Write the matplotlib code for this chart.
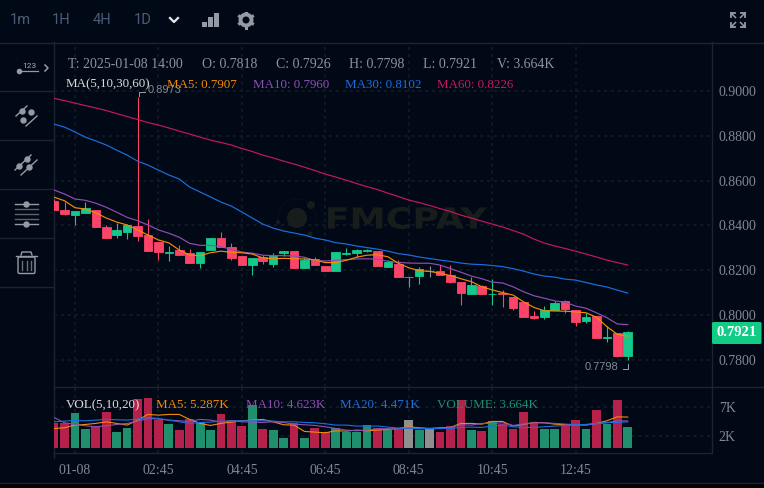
import matplotlib
matplotlib.use('Agg')
import matplotlib.pyplot as plt
from matplotlib.patches import Rectangle, FancyBboxPatch, Circle, PathPatch
from matplotlib.textpath import TextPath
from matplotlib.font_manager import FontProperties
from matplotlib.transforms import Affine2D

plt.rcParams['font.family'] = ['Liberation Serif', 'DejaVu Sans']

# candles, 15 minute bars, one row per column of the chart
opens = [.8509,.8469,.8446,.8455,.8469,.8393,.8357,.8371,.8397,.8357,.8326,.8277,.8290,.8275,.8232,.8290,.8344,.8304,.8263,.8223,.8259,.8228,.8278,.8286,.8210,.8250,.8219,.8196,
         .8272,.8277,.8286,.8286,.8214,.8228,.8171,.8174,.8196,.8196,.8179,.8148,.8094,.8130,.8094,.8097,.8081,.8058,.7996,.7991,.8022,.8063,.8022,.7973,.7996,.7897,.7920,.7818]
closes = [.8469,.8451,.8464,.8478,.8395,.8344,.8380,.8402,.8353,.8286,.8281,.8281,.8268,.8232,.8281,.8344,.8304,.8255,.8223,.8255,.8241,.8263,.8286,.8210,.8246,.8223,.8196,.8281,
          .8278,.8290,.8290,.8219,.8237,.8170,.8171,.8205,.8196,.8179,.8148,.8099,.8134,.8094,.8096,.8094,.8031,.7991,.7987,.8022,.8054,.8027,.7969,.7991,.7897,.7900,.7817,.7926]
highs = [.8518,.8506,.8464,.8504,.8469,.8402,.8411,.8406,.8973,.8429,.8326,.8308,.8313,.8295,.8281,.8344,.8371,.8322,.8263,.8255,.8268,.8277,.8286,.8286,.8255,.8259,.8219,.8281,
         .8299,.8295,.8296,.8286,.8246,.8246,.8171,.8214,.8219,.8223,.8223,.8148,.8170,.8134,.8161,.8112,.8081,.8058,.8018,.8040,.8063,.8067,.8022,.8009,.7996,.7951,.7920,.7930]
lows = [.8469,.8446,.8402,.8455,.8395,.8344,.8344,.8339,.8330,.8286,.8246,.8241,.8268,.8232,.8210,.8290,.8304,.8246,.8223,.8179,.8228,.8214,.8263,.8210,.8210,.8223,.8196,.8196,
        .8268,.8259,.8281,.8219,.8214,.8170,.8125,.8139,.8170,.8179,.8143,.8045,.8094,.8094,.8045,.8036,.8022,.7991,.7982,.7982,.8022,.8009,.7951,.7964,.7897,.7879,.7812,.7798]

ma5 = [.8526,.8510,.8479,.8473,.8456,.8433,.8415,.8402,.8380,.8357,.8335,.8322,.8290,.8268,.8265,.8278,.8285,.8280,.8278,.8272,.8255,.8251,.8253,.8251,.8250,.8246,.8234,.8234,
       .8244,.8258,.8267,.8269,.8260,.8231,.8211,.8198,.8195,.8186,.8176,.8162,.8149,.8126,.8112,.8100,.8089,.8059,.8034,.8019,.8018,.8017,.8014,.8010,.7990,.7948,.7914,.7905]
ma10 = [.8558,.8540,.8518,.8512,.8499,.8481,.8459,.8436,.8421,.8402,.8380,.8365,.8347,.8320,.8311,.8311,.8305,.8293,.8281,.8276,.8267,.8265,.8265,.8263,.8258,.8243,.8241,.8244,
        .8247,.8250,.8251,.8249,.8240,.8235,.8232,.8231,.8231,.8223,.8207,.8191,.8174,.8162,.8147,.8143,.8126,.8104,.8086,.8075,.8063,.8057,.8040,.8030,.8010,.7988,.7960,.7957]
ma30 = [.8852,.8839,.8817,.8794,.8777,.8759,.8736,.8714,.8687,.8669,.8647,.8625,.8607,.8571,.8549,.8527,.8504,.8486,.8460,.8433,.8406,.8388,.8375,.8366,.8357,.8343,.8335,.8323,
        .8317,.8308,.8301,.8294,.8285,.8274,.8268,.8259,.8252,.8245,.8239,.8232,.8227,.8225,.8221,.8216,.8207,.8196,.8183,.8174,.8169,.8160,.8156,.8145,.8134,.8125,.8111,.8098]
ma60 = [.8967,.8957,.8946,.8935,.8924,.8913,.8899,.8886,.8873,.8859,.8848,.8835,.8821,.8808,.8794,.8781,.8770,.8759,.8743,.8730,.8714,.8701,.8687,.8674,.8660,.8645,.8629,.8616,
        .8602,.8587,.8573,.8560,.8544,.8529,.8513,.8502,.8489,.8475,.8462,.8446,.8433,.8419,.8406,.8393,.8377,.8361,.8339,.8321,.8308,.8297,.8285,.8272,.8259,.8245,.8234,.8223]

# volume in thousands
volume = [4.3,4.2,6.0,3.3,3.7,6.2,2.7,3.4,8.4,8.6,4.8,4.1,3.0,4.9,4.4,3.0,5.8,4.8,3.7,7.4,3.2,3.0,1.7,4.2,1.7,3.4,2.7,3.4,
          2.8,2.8,3.9,3.4,3.0,3.4,4.8,3.0,3.4,2.7,3.7,8.2,3.0,2.9,4.6,4.1,3.2,6.1,4.3,3.2,3.2,3.9,4.8,3.2,6.5,4.1,8.2,3.66]
vol_ma5 = [3.33,3.45,3.91,4.02,4.20,4.48,4.20,3.91,4.77,5.75,5.63,5.75,5.75,4.89,4.20,3.85,4.20,4.43,4.66,4.77,4.89,4.48,3.97,3.91,2.82,2.70,2.59,2.93,
           2.87,3.05,2.93,3.05,3.16,3.33,3.62,3.45,3.33,3.45,3.51,4.20,4.20,4.08,4.54,4.54,3.74,4.02,4.37,4.31,4.08,3.97,3.97,3.97,4.20,4.66,5.34,5.29]
vol_ma10 = [5.23,4.31,4.02,3.79,3.62,3.79,4.02,4.20,4.60,5.06,4.94,4.77,4.66,4.54,4.89,4.77,4.43,4.66,4.48,4.43,4.37,4.48,4.37,4.08,3.97,3.85,3.62,3.33,
            3.05,2.93,3.05,3.28,3.28,3.28,3.39,3.39,3.28,3.33,3.51,3.97,3.91,4.20,4.20,4.31,3.85,4.08,4.31,4.31,4.20,4.08,3.97,3.91,4.14,4.31,4.66,4.62]
vol_ma20 = [4.48,4.60,4.71,4.66,4.77,4.89,4.83,4.77,4.94,5.23,5.06,4.77,4.48,4.20,4.37,4.43,4.60,4.60,4.66,4.66,4.66,4.60,4.48,4.48,4.37,4.31,4.14,3.91,
            3.91,3.74,3.74,3.74,3.56,3.39,3.39,3.28,3.33,3.33,3.33,3.51,3.56,3.51,3.74,3.91,3.62,3.51,3.51,3.62,3.74,3.85,3.97,4.02,4.20,4.37,4.37,4.47]

price_ticks = [0.90, 0.88, 0.86, 0.84, 0.82, 0.80, 0.78]
vol_ticks = [7, 2]
vol_tick_labels = ['7K', '2K']
time_ticks = [2, 10, 18, 26, 34, 42, 50]
time_labels = ['01-08', '02:45', '04:45', '06:45', '08:45', '10:45', '12:45']
intervals = ['1m', '1H', '4H', '1D']

bg = '#020916'
line_c = '#1d242f'
grid_c = '#161d27'
tick_c = '#7f8894'
icon_c = '#969ba3'
red = '#fb4468'
green = '#14c98a'
gray = '#8f8f8f'
vred = '#b5214a'
vgreen = '#1f8f6e'
orange = '#f58a07'
purple = '#8e4fb3'
blue = '#1a6fe0'
pink = '#c8175f'

fig = plt.figure(figsize=(7.64, 4.88), dpi=100, facecolor=bg)

# page furniture in pixel coordinates, sits behind the two chart axes
bk = fig.add_axes([0, 0, 1, 1])
bk.set_xlim(0, 764)
bk.set_ylim(488, 0)
bk.axis('off')

for x0, x1, y in [(0, 764, 42.5), (54, 764, 387), (54, 711, 453), (0, 764, 483), (0, 53, 91), (0, 53, 140),
                  (0, 53, 189), (0, 53, 238), (0, 53, 287)]:
    bk.plot([x0, x1], [y, y], color=line_c, lw=1)
bk.plot([53.5, 53.5], [42, 458], color=line_c, lw=1)
bk.plot([711.5, 711.5], [42, 453], color=line_c, lw=1)
bk.add_patch(Rectangle((0, 484), 764, 4, color='#000000', lw=0))

# toolbar
for lab, x in zip(intervals, [20, 61, 102, 143]):
    bk.text(x, 20.5, lab, color='#4a5c78', fontsize=10.5, family='Roboto', ha='center', va='center')
bk.plot([170, 174, 178], [18, 22, 18], color='#e8e8e8', lw=1.6)
for x, t in [(202, 22), (208, 17), (214, 13)]:
    bk.add_patch(Rectangle((x, t), 5, 27 - t, color=icon_c, lw=0))
bk.add_patch(Circle((246, 20), 5.5, fc='none', ec=icon_c, lw=2.8))
for dx, dy in [(0, 7.5), (0, -7.5), (6.5, 3.7), (-6.5, 3.7), (6.5, -3.7), (-6.5, -3.7)]:
    bk.plot([246 + dx * .8, 246 + dx], [20 + dy * .8, 20 + dy], color=icon_c, lw=2.2)
for sx, sy in [(1, 1), (1, -1), (-1, 1), (-1, -1)]:
    cx, cy = 738 + sx * 7, 20 + sy * 7
    bk.plot([cx, cx - sx * 4], [cy, cy], color=icon_c, lw=1.3)
    bk.plot([cx, cx], [cy, cy - sy * 4], color=icon_c, lw=1.3)
    bk.plot([cx, cx - sx * 4.5], [cy, cy - sy * 4.5], color=icon_c, lw=1.1)

# side bar icons
bk.text(29, 65.5, '123', color='#a8adb4', fontsize=6, family='Roboto', ha='center', va='center')
bk.plot([19, 38], [71, 71], color=icon_c, lw=0.9)
bk.plot([18.5], [71], 'o', color=icon_c, ms=3)
bk.plot([45, 48, 45], [65, 68, 71], color=icon_c, lw=1.1)
for a, b in [((16, 116), (27, 106)), ((26, 126), (37, 116))]:
    bk.plot([a[0], b[0]], [a[1], b[1]], color=icon_c, lw=1)
bk.plot([22, 31, 23], [111, 112, 120], 'o', color=icon_c, ms=3.6, lw=0)
for a, b in [((15, 170), (31, 155)), ((21, 175), (37, 160))]:
    bk.plot([a[0], b[0]], [a[1], b[1]], color=icon_c, lw=1)
bk.plot([19, 27, 29], [165.5, 158.5, 167], 'o', color=icon_c, ms=3.6, lw=0)
for y in [204, 209, 214, 219, 223.5]:
    bk.plot([14.5, 37.5], [y, y], color='#5d636b' if y in (209, 214, 219) else icon_c, lw=1)
bk.plot([26, 26], [204, 223.5], 'o', color=icon_c, ms=3.6, lw=0)
bk.plot([16, 37], [255.5, 255.5], color=icon_c, lw=1)
bk.plot([21, 22, 31, 32], [255, 252, 252, 255], color=icon_c, lw=1)
bk.add_patch(FancyBboxPatch((18, 257), 17, 16.5, boxstyle='round,pad=0,rounding_size=1.5', fc='none', ec=icon_c, lw=1))
for x in [22, 26.5, 31]:
    bk.plot([x, x], [261, 270], color='#6d727a', lw=1)

# watermark, word stretched to the width it has in the picture
wm = '#171d1b'
bk.add_patch(Circle((297, 218), 10, color=wm, lw=0))
bk.add_patch(Circle((311, 205), 4, color=wm, lw=0))
bk.add_patch(Circle((278, 222), 2, color=wm, lw=0))
bk.add_patch(Circle((310, 234), 2.5, color=wm, lw=0))
bk.add_patch(Circle((297, 218), 19, fc='none', ec='#12191d', lw=0.8, ls=':'))
tp = TextPath((0, 0), 'FMCPAY', size=10, prop=FontProperties(family='DejaVu Sans', weight='bold'))
bb = tp.get_extents()
sx_w = (487 - 328) / bb.width
sy_w = (229 - 207) / bb.height
tr = Affine2D().translate(-bb.x0, -bb.y0).scale(sx_w, -sy_w).translate(328, 229)
bk.add_patch(PathPatch(tr.transform_path(tp), fc=wm, ec='none'))

# candle chart
ax = fig.add_axes([54 / 764, (488 - 387) / 488, 657 / 764, 344 / 488])
ax.patch.set_alpha(0)
ax.set_xlim(-0.01, 62.98)
ax.set_ylim(0.76786, 0.92143)

xs = list(range(len(opens)))
for i in xs:
    o, c = opens[i], closes[i]
    col = green if c > o else red if c < o else gray
    ax.vlines(i, lows[i], highs[i], color=col, lw=0.8, zorder=3)
    ax.bar(i, abs(c - o), bottom=min(o, c), width=0.82, color=col, edgecolor=col, lw=0.6, zorder=3)

ax.plot(xs, ma60, color=pink, lw=0.85, zorder=4)
ax.plot(xs, ma30, color=blue, lw=0.85, zorder=4)
ax.plot(xs, ma10, color=purple, lw=0.85, zorder=4)
ax.plot(xs, ma5, color=orange, lw=0.85, zorder=4)

ax.set_yticks(price_ticks)
ax.set_yticklabels(['%.4f' % p for p in price_ticks])
ax.yaxis.tick_right()
ax.set_xticks(time_ticks)
ax.set_xticklabels([])
ax.tick_params(length=0, labelsize=10, labelcolor=tick_c, pad=5.5)
ax.grid(True, color=grid_c, lw=1.1, ls=(0, (2, 2.5)), zorder=0)
ax.set_axisbelow(True)
for s in ax.spines.values():
    s.set_visible(False)

# volume chart
vx = fig.add_axes([54 / 764, (488 - 453) / 488, 657 / 764, 66 / 488])
vx.patch.set_alpha(0)
vx.set_xlim(-0.01, 62.98)
vx.set_ylim(-0.9, 10.48)
vcols = [vgreen if closes[i] > opens[i] else vred if closes[i] < opens[i] else gray for i in xs]
vx.bar(xs, volume, width=0.84, color=vcols, lw=0, zorder=3)
vx.plot(xs, vol_ma5, color=orange, lw=0.8, zorder=4)
vx.plot(xs, vol_ma10, color=purple, lw=0.8, zorder=4)
vx.plot(xs, vol_ma20, color=blue, lw=0.8, zorder=4)
vx.set_yticks(vol_ticks)
vx.set_yticklabels(vol_tick_labels)
vx.yaxis.tick_right()
vx.set_xticks(time_ticks)
vx.set_xticklabels(time_labels)
vx.tick_params(length=0, labelsize=10, labelcolor=tick_c)
vx.tick_params(axis='y', pad=5.5)
vx.tick_params(axis='x', pad=8)
vx.grid(True, color=grid_c, lw=1.1, ls=(0, (2, 2.5)), zorder=0)
vx.set_axisbelow(True)
for s in vx.spines.values():
    s.set_visible(False)

# header text and flags go over everything
top = fig.add_axes([0, 0, 1, 1])
top.patch.set_alpha(0)
top.set_xlim(0, 764)
top.set_ylim(488, 0)
top.axis('off')

for x, s in [(68, 'T: 2025-01-08 14:00'), (202, 'O: 0.7818'), (276, 'C: 0.7926'), (349, 'H: 0.7798'), (423, 'L: 0.7921'), (497, 'V: 3.664K')]:
    top.text(x, 65, s, color='#8c939d', fontsize=10, va='center')
for x, s, c in [(66, 'MA(5,10,30,60)', '#dcdcdc'), (167, 'MA5: 0.7907', orange), (253, 'MA10: 0.7960', purple),
                (345, 'MA30: 0.8102', blue), (437, 'MA60: 0.8226', pink)]:
    top.text(x, 84.5, s, color=c, fontsize=9.4, va='center')
for x, s, c in [(66, 'VOL(5,10,20)', '#dcdcdc'), (156, 'MA5: 5.287K', orange), (246, 'MA10: 4.623K', purple),
                (340, 'MA20: 4.471K', blue), (437, 'VOLUME: 3.664K', vgreen)]:
    top.text(x, 405, s, color=c, fontsize=9.4, va='center')

top.text(148, 90, '0.8973', color='#7f8894', fontsize=8, family='Liberation Sans', va='center')
top.plot([145, 139, 139], [91.5, 91.5, 96], color='#9aa0a8', lw=0.7)
top.text(585, 367, '0.7798', color='#7f8894', fontsize=8, family='Liberation Sans', va='center')
top.plot([623, 628, 628], [368.5, 368.5, 364], color='#9aa0a8', lw=0.7)

top.add_patch(FancyBboxPatch((712, 322), 49.5, 22, boxstyle='round,pad=0,rounding_size=1.5', fc='#12cb85', ec='none'))
top.text(736.5, 333, '0.7921', color='#ffffff', fontsize=10.5, weight='bold', ha='center', va='center')

fig.savefig('out.png', dpi=100, facecolor=bg)
